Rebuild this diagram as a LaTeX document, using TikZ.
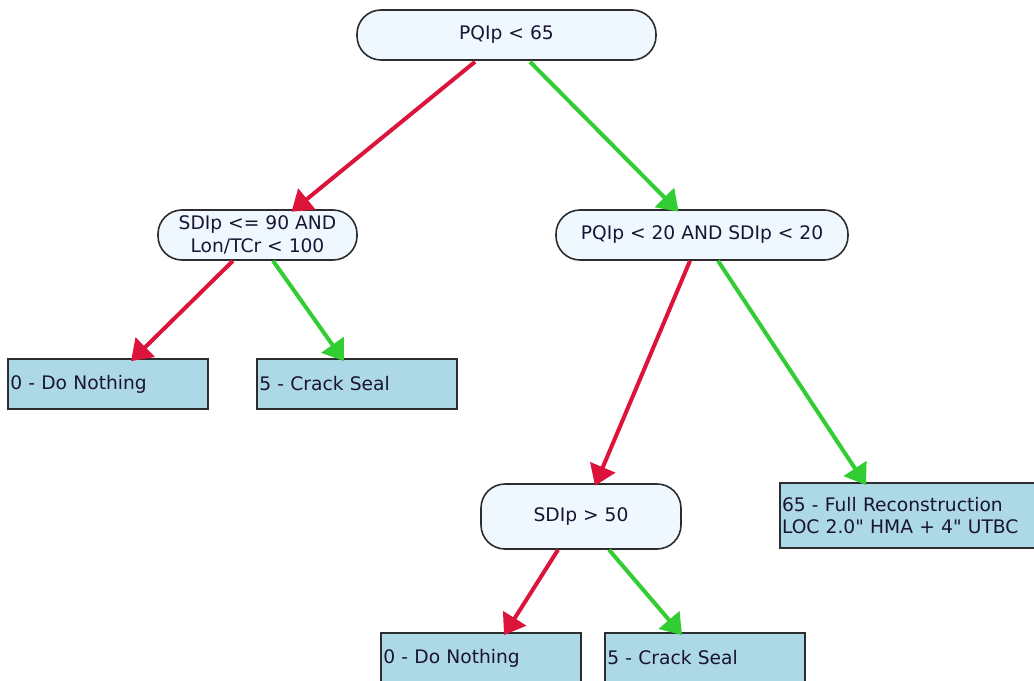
\documentclass[tikz,border=0pt]{standalone}
\usepackage{fontspec}
\setmainfont{DejaVu Sans}[Ligatures=TeXOff]
\usetikzlibrary{arrows.meta,calc}
\definecolor{redc}{RGB}{220,20,60}
\definecolor{greenc}{RGB}{50,205,50}
\definecolor{condfill}{RGB}{240,248,255}
\definecolor{leaffill}{RGB}{173,216,230}
\definecolor{edgec}{RGB}{45,45,45}
\definecolor{txtc}{RGB}{25,20,50}
\newcommand\dgfont{\fontsize{14}{17}\selectfont}
\begin{document}
\begin{tikzpicture}[x=0.75pt,y=-0.75pt,
  cond/.style={draw=edgec, line width=1.2pt, fill=condfill, rounded corners=18pt,
    minimum height=37.5pt, inner sep=0pt, align=center, font=\dgfont, text=txtc},
  leaf/.style={draw=edgec, line width=1.3pt, fill=leaffill, minimum height=37.5pt,
    text width=146.5pt, inner xsep=1.5pt, inner ysep=0pt, align=left, font=\dgfont, text=txtc},
  noedge/.style={draw=redc, line width=3pt, -{Triangle[length=15pt,width=20pt]}},
  yesedge/.style={draw=greenc, line width=3pt, -{Triangle[length=15pt,width=20pt]}}]
\fill[white] (0,0) rectangle (1034,681);
\clip (0,0) rectangle (1034,681);
\node[cond, minimum width=224.25pt] (root) at (506.5,35) {PQIp < 65};
\node[cond, minimum width=149.25pt] (n1) at (257.5,235) {SDIp <= 90 AND\\Lon/TCr < 100};
\node[cond, minimum width=219pt] (n2) at (702,235) {PQIp < 20 AND SDIp < 20};
\node[cond, minimum width=150pt, minimum height=48.75pt] (n3) at (581,516.5) {SDIp > 50};
\node[leaf] (l1) at (108,384) {0 - Do Nothing};
\node[leaf] (l2) at (357,384) {5 - Crack Seal};
\node[leaf, text width=192pt, minimum height=48.75pt] (l3) at (910,515.5) {65 - Full Reconstruction\\LOC 2.0" HMA + 4" UTBC};
\node[leaf] (l4) at (481,658) {0 - Do Nothing};
\node[leaf] (l5) at (705,658) {5 - Crack Seal};
\draw[noedge] ($(root.south)+(-31.5,1)$) -- ($(n1.north)+(34,2.5)$);
\draw[yesedge] ($(root.south)+(23.5,1)$) -- ($(n2.north)+(-23.5,2.5)$);
\draw[noedge] ($(n1.south)+(-24.5,0)$) -- ($(l1.north)+(23,3)$);
\draw[yesedge] ($(n1.south)+(15.5,0)$) -- ($(l2.north)+(-13,3)$);
\draw[noedge] ($(n2.south)+(-12,0)$) -- ($(n3.north)+(14,2.5)$);
\draw[yesedge] ($(n2.south)+(16,0)$) -- ($(l3.north)+(-44,3)$);
\draw[noedge] ($(n3.south)+(-23,0)$) -- ($(l4.north)+(23,3)$);
\draw[yesedge] ($(n3.south)+(28,0)$) -- ($(l5.north)+(-23,3)$);
\end{tikzpicture}
\end{document}
